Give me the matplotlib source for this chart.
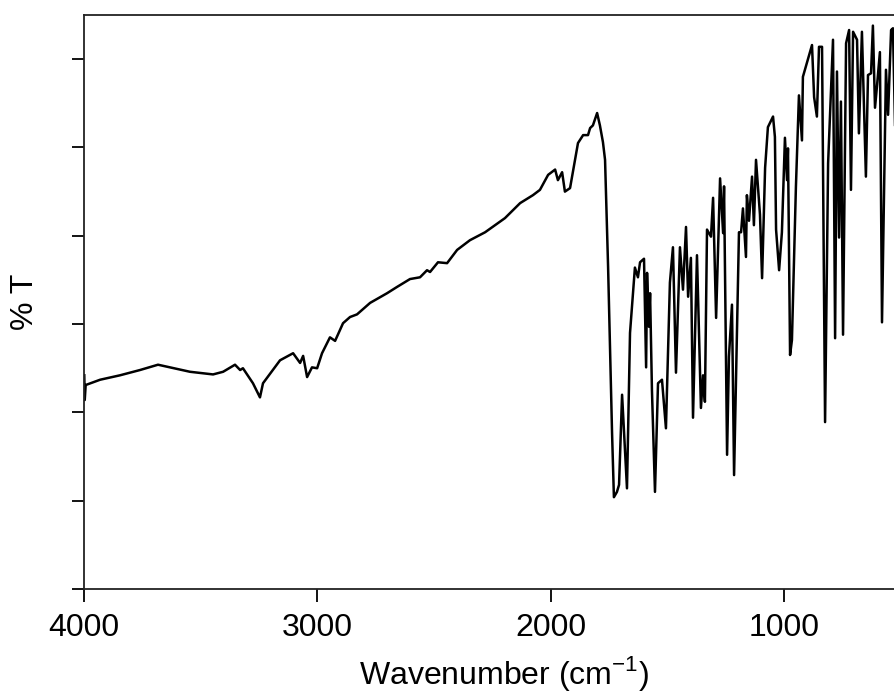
import matplotlib
matplotlib.use("Agg")
import matplotlib.pyplot as plt
from matplotlib import font_manager

# IR spectrum (wavenumber in cm-1, transmittance in %)
wavenumber = [
    3999, 3997, 3993, 3931, 3846, 3760, 3683, 3631, 3546, 3447, 3404, 3353,
    3331, 3319, 3276, 3246, 3233, 3160, 3104, 3074, 3061, 3044, 3023, 3001,
    2980, 2946, 2924, 2890, 2860, 2830, 2774, 2701, 2659, 2603, 2560, 2530,
    2517, 2483, 2444, 2401, 2346, 2281, 2196, 2131, 2076, 2046, 2011, 1981,
    1969, 1951, 1939, 1917, 1883, 1861, 1840, 1831, 1819, 1801, 1789, 1776,
    1767, 1754, 1737, 1729, 1716, 1707, 1694, 1673, 1660, 1639, 1626, 1617,
    1600, 1591, 1587, 1579, 1574, 1566, 1553, 1540, 1523, 1506, 1489, 1476,
    1463, 1446, 1433, 1420, 1411, 1399, 1390, 1373, 1356, 1347, 1339, 1330,
    1313, 1304, 1291, 1274, 1261, 1257, 1244, 1236, 1223, 1214, 1193, 1184,
    1176, 1163, 1159, 1150, 1137, 1129, 1120, 1103, 1094, 1081, 1069, 1047,
    1039, 1034, 1021, 1009, 996, 987, 983, 974, 966, 949, 936, 923, 919, 880,
    871, 859, 850, 837, 824, 811, 790, 781, 773, 764, 756, 747, 734, 721, 713,
    704, 687, 679, 666, 649, 640, 627, 619, 610, 601, 589, 580, 563, 554, 541,
    533, 524, 500, 450, 400,
]
transmittance = [
    24.2, 21.4, 23.1, 23.7, 24.2, 24.8, 25.4, 25.1, 24.6, 24.3, 24.6, 25.4,
    24.8, 25.0, 23.3, 21.7, 23.3, 25.9, 26.7, 25.6, 26.4, 24.0, 25.1, 25.0,
    26.7, 28.5, 28.1, 30.1, 30.8, 31.1, 32.4, 33.5, 34.2, 35.1, 35.3, 36.1,
    35.9, 37.0, 36.9, 38.4, 39.5, 40.4, 42.0, 43.7, 44.6, 45.2, 46.9, 47.5,
    46.3, 47.2, 45.0, 45.4, 50.5, 51.4, 51.4, 52.2, 52.5, 53.9, 52.5, 50.6,
    48.6, 36.5, 17.7, 10.4, 11.0, 11.8, 22.0, 11.4, 29.0, 36.4, 35.3, 37.0,
    37.4, 25.1, 35.8, 29.7, 33.5, 22.5, 11.0, 23.3, 23.7, 18.2, 34.7, 38.7,
    24.5, 38.7, 33.9, 41.0, 33.1, 37.5, 19.4, 37.8, 20.5, 24.2, 21.2, 40.7,
    39.9, 44.3, 30.7, 46.5, 40.3, 45.6, 15.2, 26.3, 32.2, 12.9, 40.4, 40.4,
    43.1, 37.6, 44.6, 41.7, 46.7, 41.2, 48.6, 42.4, 35.2, 47.7, 52.3, 53.5,
    51.2, 40.7, 36.1, 40.4, 51.1, 46.3, 49.9, 26.5, 28.2, 45.5, 55.9, 50.8, 58.0, 61.6,
    55.7, 53.5, 61.4, 61.4, 18.9, 48.2, 62.2, 28.4, 58.6, 39.8, 55.2, 28.8, 61.8, 63.3, 45.2,
    63.1, 62.2, 51.6, 63.1, 46.7, 58.2, 58.4, 63.8, 54.5, 57.1, 60.8, 30.2, 58.8, 53.7, 63.3,
    63.5, 52.2, 58.0, 55.0, 56.0,
]

x_ticks = [4000, 3000, 2000, 1000]
y_ticks = [0, 10, 20, 30, 40, 50, 60]

# the original lettering is tall and narrow, so use the narrow face if there is one
names = set(f.name for f in font_manager.fontManager.ttflist)
if 'Liberation Sans Narrow' in names:
    family = 'Liberation Sans Narrow'
    fsize = 27
else:
    family = 'Liberation Sans'
    fsize = 23
plt.rcParams['font.family'] = [family, 'DejaVu Sans']

fig = plt.figure(figsize=(8.95, 6.95), dpi=100)
# the right end of the axes runs past the edge of the picture, as in the original
ax = fig.add_axes([0.0939, 0.1525, 0.9385, 0.8259])
ax.plot(wavenumber, transmittance, color='black', linewidth=1.8)

ax.set_xlim(4000, 400)
ax.set_ylim(0, 65)
ax.set_xticks(x_ticks)
ax.set_xticklabels([str(t) for t in x_ticks])
ax.set_yticks(y_ticks)
ax.set_yticklabels([])
ax.tick_params(direction='out', length=9, width=1.3, labelsize=fsize)
ax.tick_params(axis='x', pad=8)
for side in ['left', 'bottom', 'top', 'right']:
    ax.spines[side].set_linewidth(1.3)
    ax.spines[side].set_color('#222222')

ax.set_xlabel('Wavenumber (cm$^{\\mathregular{-1}}$)', fontsize=fsize, labelpad=8)
ax.set_ylabel('% T', fontsize=fsize)
ax.yaxis.set_label_coords(-0.052, 0.5)

fig.savefig('out.png', dpi=100)
